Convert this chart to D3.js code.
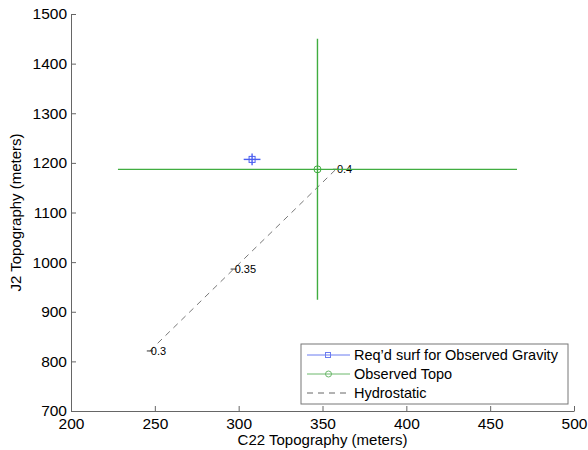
<!DOCTYPE html>
<html>
<head>
<meta charset="utf-8">
<script src="https://cdn.jsdelivr.net/npm/d3@7"></script>
<style>
body { margin: 0; background: #fff; }
text { font-family: "Liberation Sans", Arial, sans-serif; }
</style>
</head>
<body>
<div id="vis"></div>
<script>
// data
const X_TICKS = [200, 250, 300, 350, 400, 450, 500];
const Y_TICKS = [700, 800, 900, 1000, 1100, 1200, 1300, 1400, 1500];

// required surface: x, y, x error, y error
const REQ = {x: 308, y: 1207, ex: 5, ey: 12};
// observed topo
const OBS = {x: 347, y: 1187, ex: 119, ey: 263};

// hydrostatic curve points and their labels
const HYDRO_LABELS = ["0.3", "0.35", "0.4"];
const HYDRO_X = [247, 297, 358];
const HYDRO_Y = [821, 986, 1187];

const LEGEND = ["Req\u2019d surf for Observed Gravity", "Observed Topo", "Hydrostatic"];

const FRAME_WIDTH = 588;
const FRAME_HEIGHT = 450;
const MARGINS = {left: 71, right: 14, top: 14, bottom: 39};
const VIS_WIDTH = FRAME_WIDTH - MARGINS.left - MARGINS.right;
const VIS_HEIGHT = FRAME_HEIGHT - MARGINS.top - MARGINS.bottom;

const FRAME = d3.select("#vis")
    .append("svg")
    .attr("width", FRAME_WIDTH)
    .attr("height", FRAME_HEIGHT);

const X_SCALE = d3.scaleLinear().domain([200, 500]).range([0, VIS_WIDTH]);
const Y_SCALE = d3.scaleLinear().domain([700, 1500]).range([VIS_HEIGHT, 0]);

const G = FRAME.append("g")
    .attr("transform", "translate(" + MARGINS.left + "," + MARGINS.top + ")");

const AXIS_COLOR = "#666";

// x axis, ticks pointing in
const xAxis = G.append("g")
    .attr("transform", "translate(0," + VIS_HEIGHT + ")")
    .call(d3.axisBottom(X_SCALE).tickValues(X_TICKS).tickFormat(d3.format("d"))
        .tickSizeInner(-5).tickSizeOuter(0).tickPadding(7));
// y axis
const yAxis = G.append("g")
    .call(d3.axisLeft(Y_SCALE).tickValues(Y_TICKS).tickFormat(d3.format("d"))
        .tickSizeInner(-5).tickSizeOuter(0).tickPadding(4));

[xAxis, yAxis].forEach((a) => {
    a.select(".domain").attr("stroke", AXIS_COLOR);
    a.selectAll(".tick line").attr("stroke", AXIS_COLOR);
    a.selectAll(".tick text").attr("font-size", "15.5px").attr("fill", "#000")
        .attr("font-family", "Liberation Sans, Arial, sans-serif");
});

// axis labels
FRAME.append("text")
    .attr("x", MARGINS.left + VIS_WIDTH / 2)
    .attr("y", FRAME_HEIGHT - 5)
    .attr("text-anchor", "middle")
    .attr("font-size", "15px")
    .text("C22 Topography (meters)");

FRAME.append("text")
    .attr("transform", "translate(21," + (MARGINS.top + VIS_HEIGHT / 2) + ") rotate(-90)")
    .attr("text-anchor", "middle")
    .attr("font-size", "15px")
    .text("J2 Topography (meters)");

// hydrostatic dashed line
const hydro = HYDRO_X.map((x, i) => ({x: x, y: HYDRO_Y[i], label: HYDRO_LABELS[i]}));
G.append("path")
    .datum(hydro)
    .attr("fill", "none")
    .attr("stroke", "#555")
    .attr("stroke-width", 0.8)
    .attr("stroke-dasharray", "6,5")
    .attr("d", d3.line().x((d) => X_SCALE(d.x)).y((d) => Y_SCALE(d.y)));

G.selectAll(".hmark")
    .data(hydro)
    .enter()
    .append("path")
    .attr("class", "hmark")
    .attr("d", (d) => "M" + (X_SCALE(d.x) - 3) + "," + Y_SCALE(d.y) + "h6")
    .attr("stroke", "#000")
    .attr("stroke-width", 0.8);

G.selectAll(".hlabel")
    .data(hydro)
    .enter()
    .append("text")
    .attr("class", "hlabel")
    .attr("x", (d) => X_SCALE(d.x) + 1)
    .attr("y", (d) => Y_SCALE(d.y) + 4)
    .attr("font-size", "11px")
    .text((d) => d.label);

// error bar crosses
function drawCross(d, color, width) {
    const cx = X_SCALE(d.x), cy = Y_SCALE(d.y);
    G.append("line")
        .attr("x1", X_SCALE(d.x - d.ex)).attr("x2", X_SCALE(d.x + d.ex))
        .attr("y1", cy).attr("y2", cy)
        .attr("stroke", color).attr("stroke-width", width);
    G.append("line")
        .attr("x1", cx).attr("x2", cx)
        .attr("y1", Y_SCALE(d.y - d.ey)).attr("y2", Y_SCALE(d.y + d.ey))
        .attr("stroke", color).attr("stroke-width", width);
}

const GREEN = "#40ad40";
const BLUE = "#4a5ef0";

drawCross(OBS, GREEN, 1.4);
G.append("circle")
    .attr("cx", X_SCALE(OBS.x)).attr("cy", Y_SCALE(OBS.y))
    .attr("r", 3.5)
    .attr("fill", "none").attr("stroke", GREEN).attr("stroke-width", 1);

drawCross(REQ, BLUE, 1.4);
G.append("rect")
    .attr("x", X_SCALE(REQ.x) - 3).attr("y", Y_SCALE(REQ.y) - 3)
    .attr("width", 6).attr("height", 6)
    .attr("fill", "none").attr("stroke", BLUE).attr("stroke-width", 1);

// legend
const LG = FRAME.append("g").attr("transform", "translate(301,344)");
LG.append("rect")
    .attr("width", 267).attr("height", 60)
    .attr("fill", "#fff").attr("stroke", "#777").attr("stroke-width", 1);

const LEG_COLORS = ["#6b7cf0", "#6cb86c", "#666"];
LEGEND.forEach((name, i) => {
    const y = 11 + i * 19;
    LG.append("line")
        .attr("x1", 6).attr("x2", 49).attr("y1", y).attr("y2", y)
        .attr("stroke", LEG_COLORS[i]).attr("stroke-width", 1)
        .attr("stroke-dasharray", i === 2 ? "6,5" : null);
    if (i === 0) {
        LG.append("rect").attr("x", 24.5).attr("y", y - 2.5).attr("width", 5).attr("height", 5)
            .attr("fill", "none").attr("stroke", LEG_COLORS[i]);
    } else if (i === 1) {
        LG.append("circle").attr("cx", 27.5).attr("cy", y).attr("r", 3)
            .attr("fill", "none").attr("stroke", LEG_COLORS[i]);
    }
    LG.append("text")
        .attr("x", 53).attr("y", y + 5)
        .attr("font-size", "14.5px")
        .text(name);
});
</script>
</body>
</html>
